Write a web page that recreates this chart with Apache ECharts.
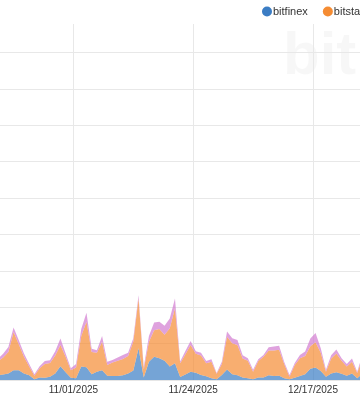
<!DOCTYPE html>
<html><head><meta charset="utf-8">
<script src="https://cdn.jsdelivr.net/npm/echarts@6/dist/echarts.min.js"></script>
<style>html,body{margin:0;padding:0;background:#fff}#c{width:360px;height:410px}</style>
</head><body><div id="c"></div>
<script>
// x axis: days counted from this origin; ticks every 23 days (11/01, 11/24, 12/17 ...)
const axisOrigin = '2025-10-09';
const firstDate = '2025-10-17';
const tickDays = 23;
const axisMaxDays = 92;

const seriesNames = ['bitfinex', 'bitstamp', 'kraken'];

const bitfinex = [1.3,1.5,1.8,2.7,2.7,1.8,1.3,0.2,0.7,0.6,0.9,1.8,3.8,2.1,0.6,0.5,3.7,3.5,1.6,2.3,
  2.7,1.2,1.1,1.1,1.3,1.8,2.6,8.7,0.7,5.0,6.4,6.0,5.3,3.7,4.6,0.8,1.5,2.3,2.0,1.4,
  1.0,0.5,0.2,1.4,2.9,1.6,1.3,0.7,0.5,0.2,0.7,0.7,1.3,1.1,1.2,0.5,0.2,0.6,1.1,1.6,
  3.1,3.4,2.5,0.9,1.8,2.1,1.7,1.2,1.8,0.5,1.8];
const bitstamp = [3.9,4.7,5.9,10.5,7.1,4.6,2.4,1.0,2.5,3.8,3.8,4.9,5.8,4.3,2.1,2.9,8.4,12.5,6.1,5.2,
  7.8,2.9,3.7,4.2,4.5,4.8,8.0,13.7,2.2,5.5,7.3,8.0,7.1,10.5,15.1,3.8,5.6,7.3,5.2,5.3,
  3.6,4.5,1.5,3.0,9.0,8.5,8.3,5.2,4.8,2.1,4.5,5.7,6.8,7.0,7.1,3.8,0.7,3.5,4.9,5.0,
  6.2,7.0,5.0,1.4,4.1,5.2,3.6,2.5,3.2,1.4,4.1];
const kraken = [0.7,1.0,1.4,1.2,1.1,0.9,0.7,0.4,0.6,0.8,0.7,1.2,1.8,0.9,0.5,1.0,1.9,2.5,0.9,0.7,
  1.6,0.9,0.7,0.9,1.1,0.9,0.9,0.9,0.7,1.6,2.1,2.0,2.5,2.7,2.7,0.5,0.9,1.1,0.7,0.8,
  0.6,0.7,0.2,0.6,1.4,1.4,1.4,0.9,0.7,0.5,0.5,0.5,0.9,1.1,1.1,0.6,0.5,0.6,0.9,1.2,
  2.1,2.5,1.2,0.5,0.9,1.1,0.7,0.7,0.9,0.4,0.9];

const DAY = 86400000;
function toUTC(s){const p=s.split('-').map(Number);return Date.UTC(p[0],p[1]-1,p[2]);}
const origin = toUTC(axisOrigin);
const start = toUTC(firstDate);
// each daily sample placed at the middle of its day
const times = bitfinex.map((_, i) => start + (i + 0.5) * DAY);

function fmt(v){
  const d = new Date(origin + v * DAY);
  const mm = String(d.getUTCMonth()+1).padStart(2,'0');
  const dd = String(d.getUTCDate()).padStart(2,'0');
  return mm + '/' + dd + '/' + d.getUTCFullYear();
}

const colors = ['#3b7dc4', '#f58c33', '#d27ad0'];
const values = [bitfinex, bitstamp, kraken];
const FONT = '"Liberation Sans", Arial, Helvetica, sans-serif';

const chart = echarts.init(document.getElementById('c'), null, {renderer:'canvas'});
chart.setOption({
  animation: false,
  textStyle: {fontFamily: FONT},
  color: colors,
  graphic: [{
    type: 'text', x: 283, y: 27, z: -10, silent: true,
    style: {text: 'bitinfocharts', font: 'bold 60px ' + FONT, fill: 'rgba(0,0,0,0.032)', verticalAlign: 'top'}
  }],
  legend: {
    left: 262, top: 6, width: 400, orient: 'horizontal', padding: 0,
    icon: 'circle', itemWidth: 10, itemHeight: 10, itemGap: 15,
    textStyle: {fontSize: 11, color: '#333', fontFamily: FONT, padding: [0,0,0,-4]},
    data: seriesNames
  },
  grid: {left: -46.3, top: 24, width: 479, height: 356, outerBoundsMode: 'none', containLabel: false},
  xAxis: [{
    type: 'time', show: false, min: origin, max: origin + axisMaxDays * DAY
  }, {
    type: 'value', min: 0, max: axisMaxDays, interval: tickDays, position: 'bottom',
    axisLine: {show: true, lineStyle: {color: '#e6e6e6'}},
    axisTick: {show: false},
    splitLine: {show: true, lineStyle: {color: '#e8e8e8', width: 1}},
    axisLabel: {fontSize: 10, color: '#333', margin: 5, fontFamily: FONT, formatter: fmt}
  }],
  yAxis: {
    type: 'value', min: 0, max: 97.8, interval: 10,
    axisLabel: {show: false}, axisLine: {show: false}, axisTick: {show: false},
    splitLine: {show: true, showMaxLine: false, lineStyle: {color: '#e8e8e8', width: 1}}
  },
  series: seriesNames.map((n, s) => ({
    name: n, type: 'line', stack: 'total', symbol: 'none', smooth: false,
    xAxisIndex: 0,
    lineStyle: {width: 0},
    areaStyle: {opacity: 0.7},
    data: values[s].map((v, i) => [times[i], v])
  }))
});
</script></body></html>
